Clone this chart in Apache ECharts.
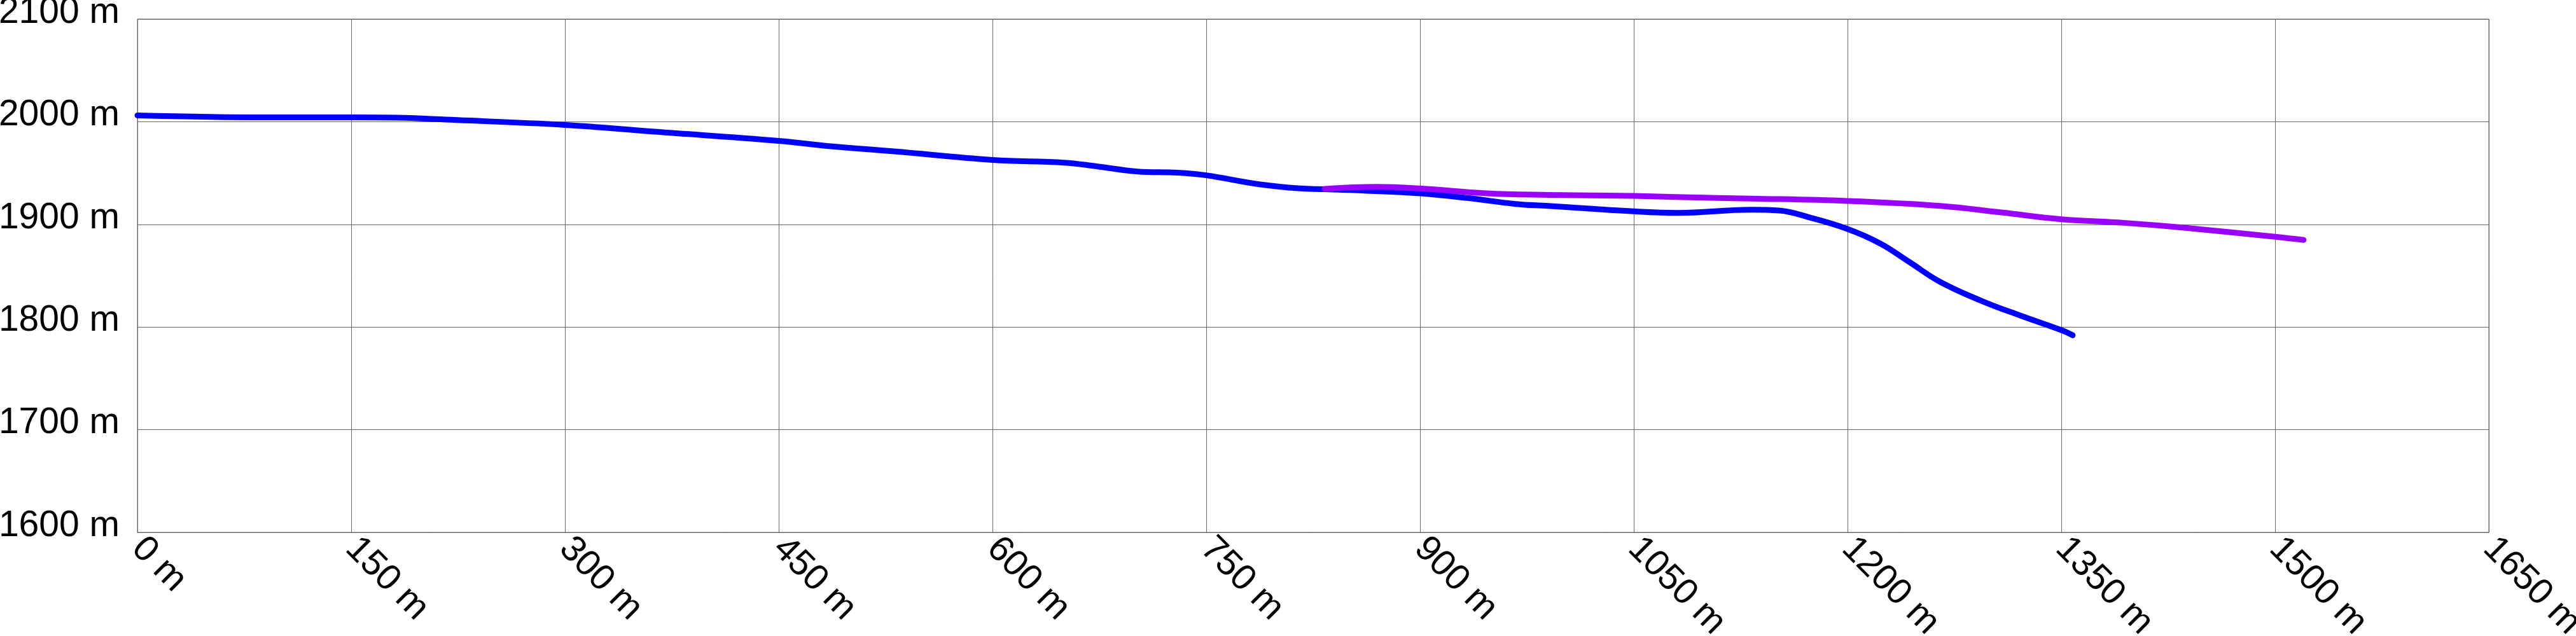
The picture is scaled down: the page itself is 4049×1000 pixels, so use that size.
<!DOCTYPE html>
<html>
<head>
<meta charset="utf-8">
<script src="https://cdn.jsdelivr.net/npm/echarts@6/dist/echarts.min.js"></script>
<style>
  html, body { margin: 0; padding: 0; background: #fff; }
  #chart { width: 4049px; height: 1000px; }
</style>
</head>
<body>
<div id="chart"></div>
<script>
// Blue profile: distance (m) and elevation (m)
const blueDist = [0, 92, 150, 192, 209, 300, 363, 450, 485, 531, 600, 650, 673, 702, 730, 750, 787, 816, 833, 861, 900, 933, 967, 990, 1050, 1081, 1132, 1152, 1175, 1200, 1223, 1243, 1265, 1294, 1322, 1350, 1358];
const blueElev = [2006.2, 2004.3, 2004.3, 2003.7, 2002.5, 1996.9, 1990.3, 1981.4, 1976.3, 1971.1, 1962.8, 1960.2, 1956.6, 1951.5, 1950.4, 1947.8, 1939.1, 1935.0, 1934.3, 1932.9, 1930.2, 1925.7, 1919.9, 1918.0, 1912.7, 1911.2, 1914.3, 1913.5, 1906.1, 1895.5, 1881.3, 1863.7, 1844.0, 1825.5, 1810.8, 1797.0, 1792.0];

// Purple profile
const purpleDist = [833, 870, 900, 947, 990, 1050, 1109, 1132, 1200, 1265, 1308, 1350, 1394, 1436, 1500, 1520];
const purpleElev = [1934.6, 1936.6, 1935.0, 1930.2, 1928.7, 1927.7, 1925.7, 1925.2, 1922.8, 1918.0, 1911.6, 1905.0, 1901.5, 1896.8, 1887.9, 1884.8];

// Axes
const xMin = 0, xMax = 1650, xStep = 150;
const yMin = 1600, yMax = 2100, yStep = 100;
const unit = ' m';

const zip = (a, b) => a.map((v, i) => [v, b[i]]);

const chart = echarts.init(document.getElementById('chart'), null, { renderer: 'canvas' });
const font = "Liberation Sans";
const gridColor = '#666';
const fs = 57;

chart.setOption({
  animation: false,
  backgroundColor: '#ffffff',
  grid: { left: 216, right: 137, top: 30, bottom: 163, containLabel: false,
          outerBoundsMode: 'none',
          show: true, borderColor: gridColor, borderWidth: 1 },
  xAxis: {
    type: 'value', min: xMin, max: xMax, interval: xStep,
    axisLine: { show: true, lineStyle: { color: gridColor, width: 1 } },
    axisTick: { show: false },
    splitLine: { show: true, lineStyle: { color: gridColor, width: 1 } },
    axisLabel: {
      rotate: -45, margin: 17, color: '#000', fontSize: fs, fontFamily: font,
      hideOverlap: false,
      formatter: v => v + unit, showMinLabel: true, showMaxLabel: true
    }
  },
  yAxis: {
    type: 'value', min: yMin, max: yMax, interval: yStep,
    axisLine: { show: true, lineStyle: { color: gridColor, width: 1 } },
    axisTick: { show: false },
    splitLine: { show: true, lineStyle: { color: gridColor, width: 1 } },
    axisLabel: {
      margin: 28, color: '#000', fontFamily: font, hideOverlap: false,
      formatter: v => '{t|' + v + unit + '}',
      rich: { t: { fontSize: fs, fontFamily: font, color: '#000', lineHeight: fs, padding: [0, 0, 20, 0] } },
      showMinLabel: true, showMaxLabel: true
    }
  },
  series: [
    {
      type: 'line', data: zip(blueDist, blueElev), showSymbol: false,
      smooth: 0.4, clip: false,
      lineStyle: { color: '#0000ff', width: 9, cap: 'round', join: 'round' }
    },
    {
      type: 'line', data: zip(purpleDist, purpleElev), showSymbol: false,
      smooth: 0.4, clip: false,
      lineStyle: { color: '#9900ff', width: 9, cap: 'round', join: 'round' }
    }
  ]
});
</script>
</body>
</html>
